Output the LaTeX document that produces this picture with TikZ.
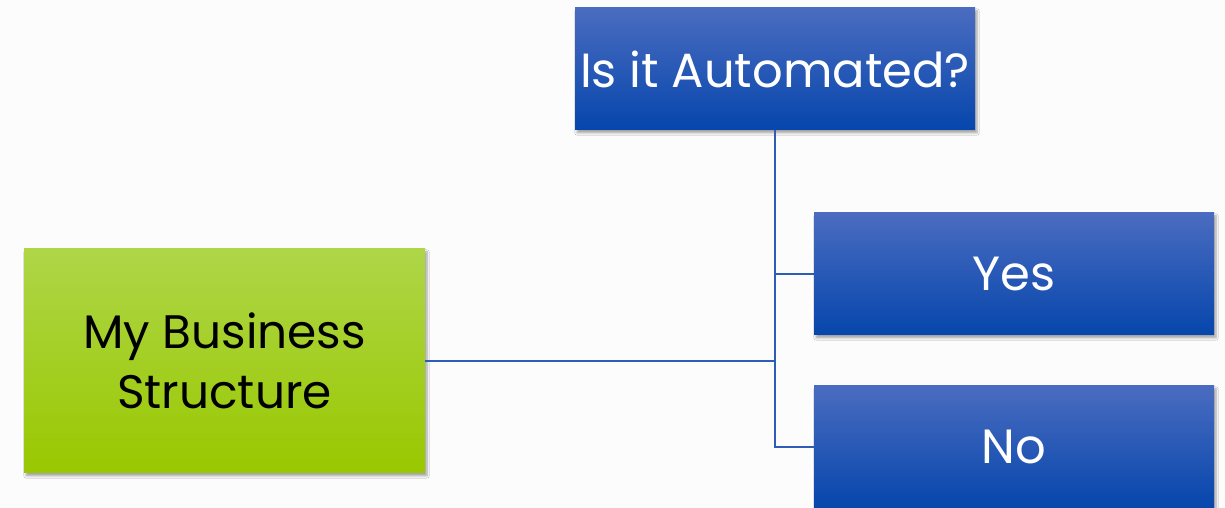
\documentclass[tikz,border=0pt]{standalone}
\usepackage{fontspec}
\setmainfont{Poppins}
\usetikzlibrary{shadows, shadows.blur, positioning}
\definecolor{chartblue}{RGB}{22, 86, 190}
\definecolor{chartbluetop}{RGB}{74, 108, 192}
\definecolor{chartbluebot}{RGB}{6, 70, 172}
\definecolor{chartgreen}{RGB}{164, 210, 20}
\definecolor{chartgreentop}{RGB}{174, 214, 72}
\definecolor{chartgreenbot}{RGB}{153, 200, 0}
\definecolor{chartline}{RGB}{46, 93, 181}

\begin{document}
\begin{tikzpicture}[x=1pt, y=1pt,
    bluebox/.style={rectangle, minimum width=400pt, minimum height=122pt, inner sep=0pt,
        top color=chartbluetop, middle color=chartblue, bottom color=chartbluebot,
        text=white, font=\fontsize{48}{56}\selectfont,
        blur shadow={shadow xshift=2pt, shadow yshift=-3pt, shadow blur steps=6, shadow opacity=35}},
    greenbox/.style={rectangle, minimum width=401pt, minimum height=224pt, inner sep=0pt,
        top color=chartgreentop, middle color=chartgreen, bottom color=chartgreenbot,
        text=black, align=center, font=\fontsize{47}{60}\selectfont,
        blur shadow={shadow xshift=2pt, shadow yshift=-3pt, shadow blur steps=6, shadow opacity=35}},
    link/.style={draw=chartline, line width=2.2pt}]
    \fill[white!99!black] (0, 0) rectangle (1225, 508);
    \useasboundingbox (0, 0) rectangle (1225, 508);

    \node[greenbox] (biz) at (224.5, 147) {My Business\\Structure};
    \node[bluebox] (auto) at (775, 439) {Is it Automated?};
    \node[bluebox] (yes) at (1014, 234) {Yes};
    \node[bluebox] (no) at (1014, 61) {No};

    \draw[link] (biz.east) -- (biz.east -| auto.south);
    \draw[link] (auto.south) |- (yes.west);
    \draw[link] (auto.south) |- (no.west);
\end{tikzpicture}
\end{document}
